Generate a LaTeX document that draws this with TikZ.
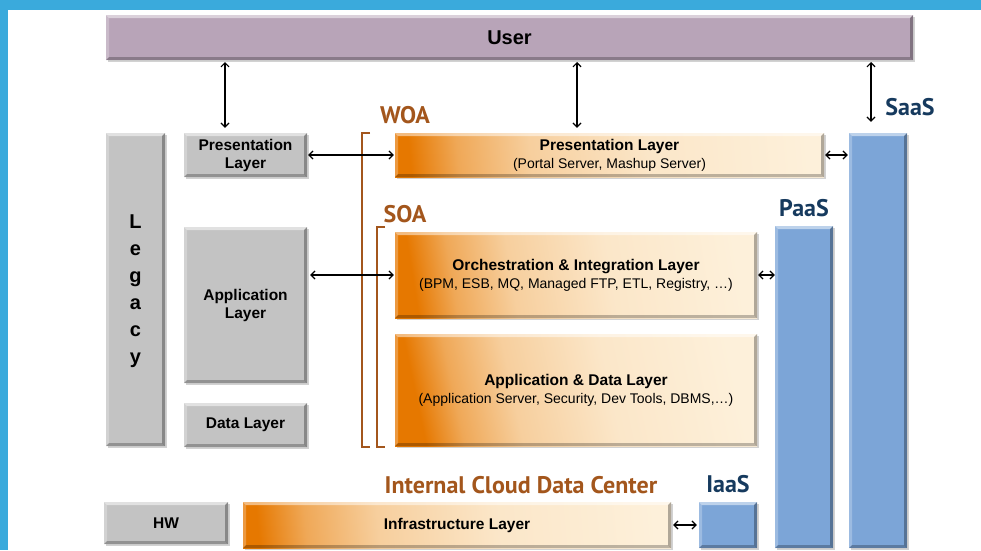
\documentclass[tikz,border=0pt]{standalone}
\usepackage{fontspec}
\setmainfont{Liberation Sans}
\newfontfamily\labelfont{PT Sans}
\usetikzlibrary{arrows.meta,shadows}

\definecolor{bgblue}{HTML}{3AAADC}
\definecolor{usercol}{HTML}{B8A4B8}
\definecolor{graycol}{HTML}{C3C3C3}
\definecolor{bluecol}{HTML}{7CA5D7}
\definecolor{ordark}{HTML}{E67800}
\definecolor{orlight}{HTML}{FDF0DA}
\definecolor{woabrown}{HTML}{A3561C}
\definecolor{navy}{HTML}{163A5E}

% orange fade, box edges sit at 25bp and 75bp
\pgfdeclarehorizontalshading{orfade}{100bp}{
    color(0bp)=(ordark); color(25bp)=(ordark); color(31bp)=(ordark!60!orlight);
    color(40bp)=(ordark!28!orlight); color(55bp)=(ordark!8!orlight);
    color(75bp)=(orlight); color(100bp)=(orlight)}

\newcommand{\subline}[1]{{\fontsize{14}{17}\selectfont\mdseries #1}}

\begin{document}
\begin{tikzpicture}[
    x=1pt, y=-1pt,
    bevel/.style={
        path picture={
            \path (path picture bounding box.north west) coordinate (bnw)
                  (path picture bounding box.north east) coordinate (bne)
                  (path picture bounding box.south west) coordinate (bsw)
                  (path picture bounding box.south east) coordinate (bse);
            \fill[white, opacity=.5] (bnw) -- (bne) -- ([xshift=-3pt,yshift=-3pt]bne) -- ([xshift=3pt,yshift=-3pt]bnw) -- cycle;
            \fill[white, opacity=.25] (bnw) -- (bsw) -- ([xshift=3pt,yshift=3pt]bsw) -- ([xshift=3pt,yshift=-3pt]bnw) -- cycle;
            \fill[black, opacity=.25] (bsw) -- (bse) -- ([xshift=-3pt,yshift=3pt]bse) -- ([xshift=3pt,yshift=3pt]bsw) -- cycle;
            \fill[black, opacity=.3] (bne) -- (bse) -- ([xshift=-3pt,yshift=3pt]bse) -- ([xshift=-3pt,yshift=-3pt]bne) -- cycle;
        }
    },
    box/.style={
        rectangle, inner sep=0pt, bevel, align=center,
        drop shadow={shadow xshift=2pt, shadow yshift=-2pt, opacity=.35},
        font=\fontsize{15.5}{18}\selectfont\bfseries
    },
    graybox/.style={box, fill=graycol},
    bluebox/.style={box, fill=bluecol},
    orbox/.style={box, shading=orfade, shading angle=5},
    labelbox/.style={font=\labelfont\fontsize{24}{24}\selectfont\bfseries, inner sep=0pt},
    bracket/.style={draw=woabrown, line width=1.5pt},
    arrow/.style={<->, line width=1.2pt, >={Straight Barb[length=4pt,width=8pt]}}
]

\useasboundingbox (0,0) rectangle (981,550);
\fill[bgblue] (0,0) rectangle (981,550);
\fill[white] (8,10) rectangle (981,550);

% ==================== USER ====================
\node[box, fill=usercol, minimum width=807pt, minimum height=45pt, font=\fontsize{20}{20}\selectfont\bfseries] (user) at (509.5,37.5) {User};

% ==================== LEGACY ====================
\node[graybox, minimum width=59pt, minimum height=313pt, text depth=-10pt, font=\fontsize{20}{27}\selectfont\bfseries] (legacy) at (135.5,289.5) {L\\e\\g\\a\\c\\y};
\node[graybox, minimum width=123pt, minimum height=44pt] (lpres) at (245.5,155) {Presentation\\Layer};
\node[graybox, minimum width=123pt, minimum height=156pt] (lapp) at (245.5,305) {Application\\Layer};
\node[graybox, minimum width=123pt, minimum height=44pt] (ldata) at (245.5,425) {Data Layer};

% ==================== WOA / SOA ====================
\node[orbox, minimum width=429pt, minimum height=44pt] (wpres) at (609.5,155) {Presentation Layer\\\subline{(Portal Server, Mashup Server)}};
\node[orbox, shading angle=9, minimum width=362pt, minimum height=86pt] (orch) at (576,275) {Orchestration \& Integration Layer\\\subline{(BPM, ESB, MQ, Managed FTP, ETL, Registry, …)}};
\node[orbox, shading angle=12, minimum width=362pt, minimum height=112pt] (appdata) at (576,390) {Application \& Data Layer\\\subline{(Application Server, Security, Dev Tools, DBMS,…)}};

\draw[bracket] (370,133) -- (362,133) -- (362,447) -- (370,447);
\draw[bracket] (385,227) -- (377,227) -- (377,447) -- (385,447);

% ==================== CLOUD COLUMNS ====================
\node[bluebox, minimum width=58pt, minimum height=322pt] (paas) at (804,387) {};
\node[bluebox, minimum width=58pt, minimum height=415pt] (saas) at (878,340.5) {};
\node[bluebox, minimum width=58pt, minimum height=46pt] (iaas) at (728,525) {};

% ==================== DATA CENTER ====================
\node[graybox, minimum width=124pt, minimum height=42pt] (hw) at (166,523) {HW};
\node[orbox, minimum width=428pt, minimum height=46pt] (infra) at (457,525) {Infrastructure Layer};

% ==================== LABELS ====================
\node[labelbox, text=woabrown] (woa) at (405,115) {WOA};
\node[labelbox, text=woabrown] (soa) at (405,214) {SOA};
\node[labelbox, text=woabrown] (icdc) at (521,485) {Internal Cloud Data Center};
\node[labelbox, text=navy] (saaslabel) at (910,107) {SaaS};
\node[labelbox, text=navy] (paaslabel) at (804,208) {PaaS};
\node[labelbox, text=navy] (iaaslabel) at (728,484) {IaaS};

% ==================== ARROWS ====================
\coordinate (ua) at (225,60);
\coordinate (ub) at (577,60);
\coordinate (uc) at (871,60);
\draw[arrow, shorten <=2pt, shorten >=5pt] (ua) -- (ua |- lpres.north);
\draw[arrow, shorten <=2pt, shorten >=5pt] (ub) -- (ub |- wpres.north);
\draw[arrow, shorten <=2pt, shorten >=11pt] (uc) -- (uc |- saas.north);

\draw[arrow, shorten <=1pt, shorten >=1pt] (lpres) -- (wpres);
\draw[arrow, shorten <=3pt, shorten >=1pt] (lapp.east |- orch) -- (orch.west);
\draw[arrow, shorten <=1pt, shorten >=1pt] (wpres.east) -- (wpres.east -| saas.west);
\draw[arrow, shorten <=1pt, shorten >=0pt] (orch.east) -- (orch.east -| paas.west);
\draw[arrow, shorten <=2pt, shorten >=2pt] (infra) -- (iaas);

\end{tikzpicture}
\end{document}
